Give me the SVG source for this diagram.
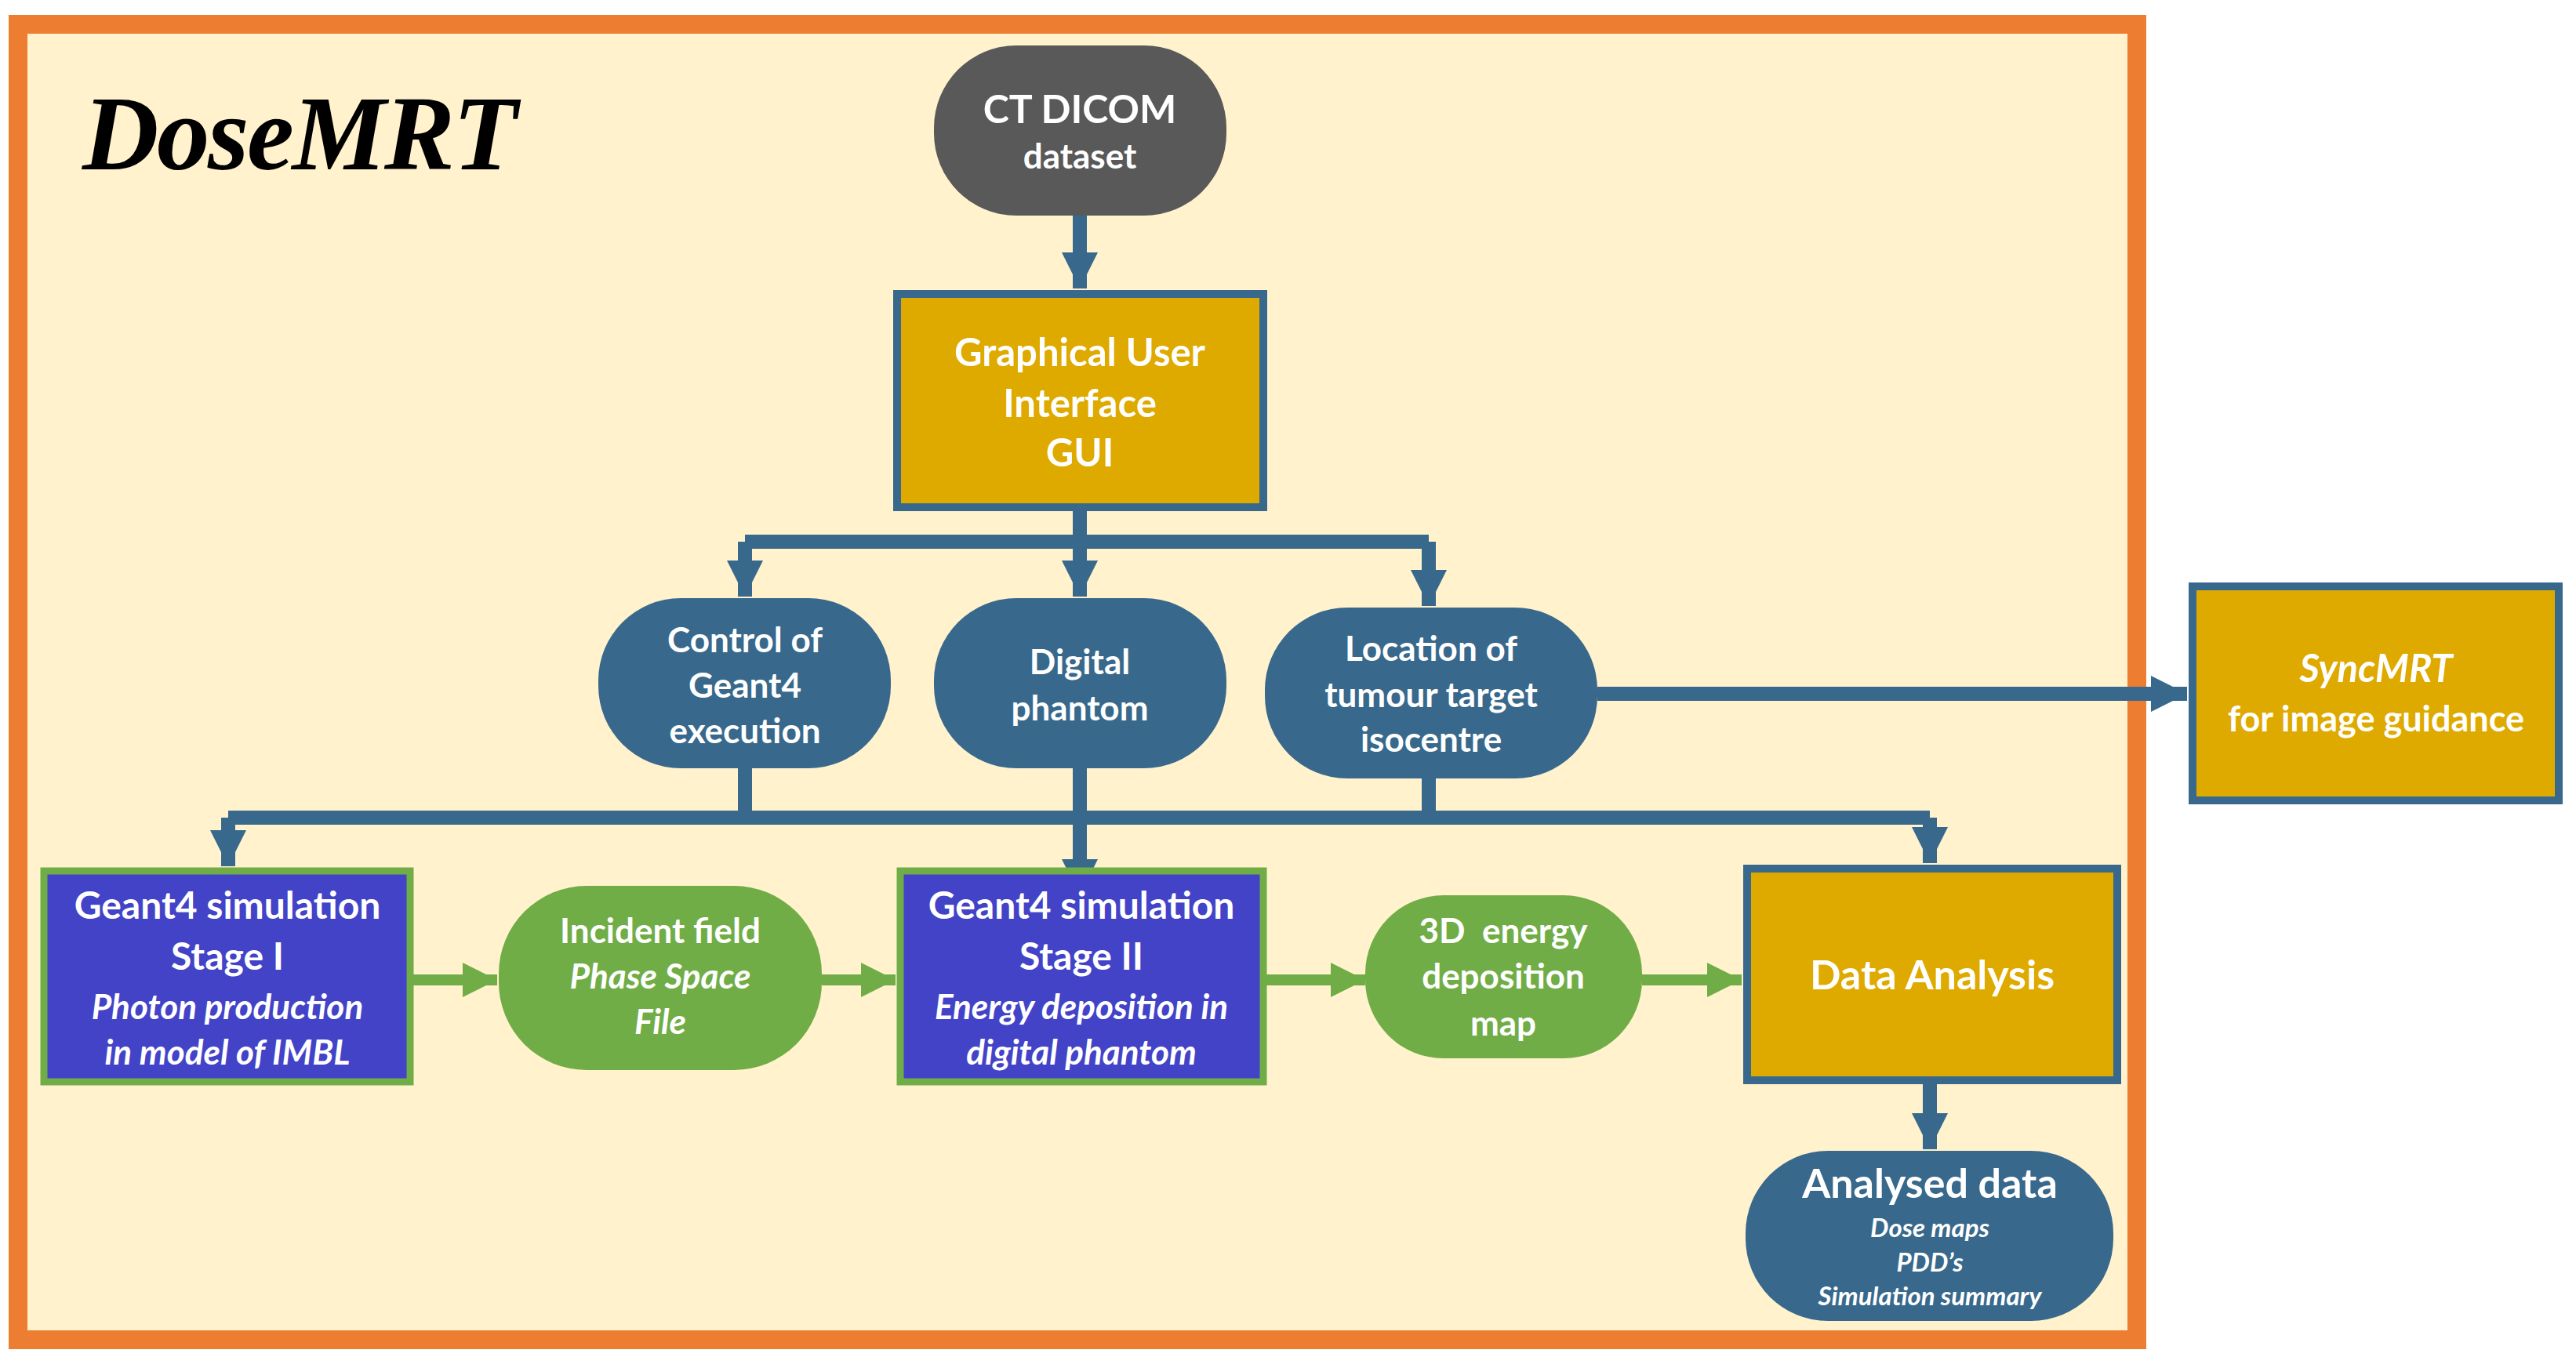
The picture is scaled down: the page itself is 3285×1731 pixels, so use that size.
<svg xmlns="http://www.w3.org/2000/svg" width="3285" height="1731" viewBox="0 0 3285 1731">
<style>
.t{font-family:Lato,"Liberation Sans",sans-serif;font-weight:bold;fill:#fff;text-anchor:middle}
.i{font-style:italic}
.b{stroke:#38698C;stroke-width:18;fill:none}
.g{stroke:#70AD47;stroke-width:14;fill:none}
</style>
<defs>
<marker id="ab" viewBox="0 0 10 10" refX="10" refY="5" markerWidth="48" markerHeight="46" markerUnits="userSpaceOnUse" orient="auto"><path d="M0,0L10,5L0,10z" fill="#38698C"/></marker>
<marker id="ag" viewBox="0 0 10 10" refX="10" refY="5" markerWidth="46" markerHeight="44" markerUnits="userSpaceOnUse" orient="auto"><path d="M0,0L10,5L0,10z" fill="#70AD47"/></marker>
</defs>
<rect width="3285" height="1731" fill="#fff"/>
<rect x="23" y="31" width="2702" height="1678" fill="#FFF2CC" stroke="#ED7D31" stroke-width="24"/>
<text x="105" y="216" font-family="Liberation Serif,serif" font-weight="bold" font-style="italic" font-size="135" textLength="555" fill="#000">DoseMRT</text>
<g id="connectors">
<path class="b" d="M1377 275V368" marker-end="url(#ab)"/>
<path class="b" d="M1377 652V761"/>
<path class="b" d="M950 691H1822"/>
<path class="b" d="M950 691V761" marker-end="url(#ab)"/>
<path class="b" d="M1377 691V761" marker-end="url(#ab)"/>
<path class="b" d="M1822 691V773" marker-end="url(#ab)"/>
<path class="b" d="M2037 885H2789" marker-end="url(#ab)"/>
<path class="b" d="M950 980V1043"/>
<path class="b" d="M1822 993V1043"/>
<path class="b" d="M291 1043H2461"/>
<path class="b" d="M291 1043V1105" marker-end="url(#ab)"/>
<path class="b" d="M1377 980V1142" marker-end="url(#ab)"/>
<path class="b" d="M2461 1043V1101" marker-end="url(#ab)"/>
<path class="b" d="M2461 1383V1466" marker-end="url(#ab)"/>
<path class="g" d="M527 1250H634" marker-end="url(#ag)"/>
<path class="g" d="M1048 1250H1142" marker-end="url(#ag)"/>
<path class="g" d="M1615 1250H1741" marker-end="url(#ag)"/>
<path class="g" d="M2094 1250H2221" marker-end="url(#ag)"/>
</g>
<g id="ct"><rect x="1191" y="58" width="373" height="217" rx="105" fill="#595959"/>
<text class="t" x="1377" y="157" font-size="50">CT DICOM</text><text class="t" x="1377" y="215" font-size="44">dataset</text></g>
<g id="gui"><rect x="1144" y="375" width="467" height="272" fill="#DFAA00" stroke="#38698C" stroke-width="10"/>
<text class="t" x="1377" y="467" font-size="49">Graphical User</text><text class="t" x="1377" y="532" font-size="49">Interface</text><text class="t" x="1377" y="595" font-size="49">GUI</text></g>
<g id="control"><rect x="763" y="763" width="373" height="217" rx="105" fill="#38698C"/>
<text class="t" x="950" y="832" font-size="44">Control of</text><text class="t" x="950" y="890" font-size="44">Geant4</text><text class="t" x="950" y="948" font-size="44">execution</text></g>
<g id="digital"><rect x="1191" y="763" width="373" height="217" rx="105" fill="#38698C"/>
<text class="t" x="1377" y="860" font-size="44">Digital</text><text class="t" x="1377" y="919" font-size="44">phantom</text></g>
<g id="location"><rect x="1613" y="775" width="424" height="218" rx="105" fill="#38698C"/>
<text class="t" x="1825" y="843" font-size="44">Location of</text><text class="t" x="1825" y="902" font-size="44">tumour target</text><text class="t" x="1825" y="959" font-size="44">isocentre</text></g>
<g id="sync"><rect x="2796" y="748" width="467" height="273" fill="#DFAA00" stroke="#38698C" stroke-width="10"/>
<text class="t i" x="3030" y="870" font-size="49">SyncMRT</text><text class="t" x="3030" y="933" font-size="45">for image guidance</text></g>
<g id="stage1"><rect x="56" y="1111" width="467" height="269" fill="#4343C8" stroke="#70AD47" stroke-width="9"/>
<text class="t" x="290" y="1172" font-size="48">Geant4 simulation</text><text class="t" x="290" y="1237" font-size="48">Stage I</text><text class="t i" x="290" y="1300" font-size="44">Photon production</text><text class="t i" x="290" y="1358" font-size="44">in model of IMBL</text></g>
<g id="incident"><rect x="636" y="1130" width="412" height="235" rx="112" fill="#70AD47"/>
<text class="t" x="842" y="1203" font-size="44">Incident field</text><text class="t i" x="842" y="1261" font-size="44">Phase Space</text><text class="t i" x="842" y="1319" font-size="44">File</text></g>
<g id="stage2"><rect x="1148" y="1111" width="463" height="269" fill="#4343C8" stroke="#70AD47" stroke-width="9"/>
<text class="t" x="1379" y="1172" font-size="48">Geant4 simulation</text><text class="t" x="1379" y="1237" font-size="48">Stage II</text><text class="t i" x="1379" y="1300" font-size="44">Energy deposition in</text><text class="t i" x="1379" y="1358" font-size="44">digital phantom</text></g>
<g id="energy"><rect x="1741" y="1142" width="353" height="208" rx="100" fill="#70AD47"/>
<text class="t" x="1917" y="1203" font-size="44" xml:space="preserve">3D  energy</text><text class="t" x="1917" y="1261" font-size="44">deposition</text><text class="t" x="1917" y="1321" font-size="44">map</text></g>
<g id="analysis"><rect x="2228" y="1108" width="472" height="270" fill="#DFAA00" stroke="#38698C" stroke-width="10"/>
<text class="t" x="2464" y="1262" font-size="52">Data Analysis</text></g>
<g id="analysed"><rect x="2226" y="1468" width="469" height="217" rx="105" fill="#38698C"/>
<text class="t" x="2461" y="1528" font-size="52">Analysed data</text><text class="t i" x="2461" y="1578" font-size="33">Dose maps</text><text class="t i" x="2461" y="1622" font-size="33">PDD’s</text><text class="t i" x="2461" y="1665" font-size="33">Simulation summary</text></g>
</svg>
